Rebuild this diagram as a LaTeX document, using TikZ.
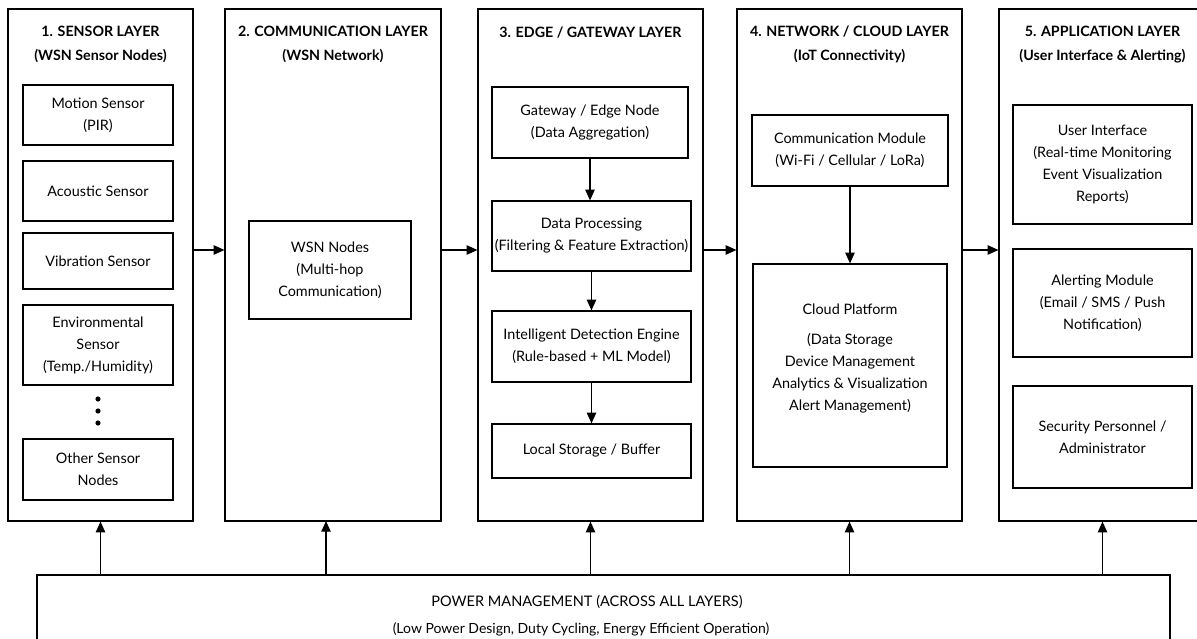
\documentclass[tikz,border=0pt]{standalone}
\usepackage{fontspec}
\setmainfont{Lato}
\usetikzlibrary{arrows.meta}
\newcommand\pbox[7]{\node[#2, minimum width={(#5-#3)*0.75pt}, minimum height={(#6-#4)*0.75pt}] (#1) at ({(#3+#5)/2},{(#4+#6)/2}) {#7};}
\begin{document}
\begin{tikzpicture}[x=0.75pt,y=-0.75pt, line width=0.9pt,
  layer/.style={draw, inner sep=0pt},
  ibox/.style={draw, align=center, inner sep=0pt, font=\fontsize{10.8}{16.5}\selectfont},
  ttl/.style={align=center, inner sep=0pt, font=\bfseries\fontsize{10.7}{17.5}\selectfont},
  ptxt/.style={inner sep=0pt, font=\fontsize{10.5}{14}\selectfont},
  arr/.style={-{Triangle[length=8pt,width=7pt]}}]
\clip (0,0) rectangle (1197,639);
\fill[white] (0,0) rectangle (1197,639);
% layers
\pbox{L1}{layer}{8}{9}{193}{521}{}
\pbox{L2}{layer}{225}{9}{441}{521}{}
\pbox{L3}{layer}{478}{9}{703}{521}{}
\pbox{L4}{layer}{737}{9}{962}{521}{}
\pbox{L5}{layer}{999}{9}{1206}{521}{}
% titles
\node[ttl] (t1) at (100.5,44.5) {1. SENSOR LAYER\\(WSN Sensor Nodes)};
\node[ttl] (t2) at (333,44.5) {2. COMMUNICATION LAYER\\(WSN Network)};
\node[ttl] (t3) at (590.5,33) {3. EDGE / GATEWAY LAYER};
\node[ttl] (t4) at (849.5,44.5) {4. NETWORK / CLOUD LAYER\\(IoT Connectivity)};
\node[ttl] (t5) at (1102.5,44.5) {5. APPLICATION LAYER\\(User Interface \& Alerting)};
% layer 1
\pbox{ms}{ibox}{23}{85}{173}{145}{Motion Sensor\\(PIR)}
\pbox{as}{ibox}{23}{161}{173}{221}{Acoustic Sensor}
\pbox{vs}{ibox}{23}{233}{173}{289}{Vibration Sensor}
\pbox{es}{ibox}{23}{305}{173}{385}{Environmental\\Sensor\\(Temp./Humidity)}
\pbox{os}{ibox}{23}{439}{173}{500}{Other Sensor\\Nodes}
\fill (98,399) circle (2.6);
\fill (98,411) circle (2.6);
\fill (98,423) circle (2.6);
% layer 2
\pbox{wsn}{ibox}{249}{221}{411}{319}{WSN Nodes\\(Multi-hop\\Communication)}
% layer 3
\pbox{gw}{ibox}{492}{87}{688}{158}{Gateway / Edge Node\\(Data Aggregation)}
\pbox{dp}{ibox}{492}{201}{691}{271}{Data Processing\\(Filtering \& Feature Extraction)}
\pbox{ide}{ibox}{492}{311}{691}{382}{Intelligent Detection Engine\\(Rule-based + ML Model)}
\pbox{ls}{ibox}{492}{424}{691}{478}{Local Storage / Buffer}
\draw[arr] (gw.south) -- (gw.south |- dp.north);
\draw[arr] (dp.south) -- (dp.south |- ide.north);
\draw[arr] (ide.south) -- (ide.south |- ls.north);
% layer 4
\pbox{cm}{ibox}{752}{115}{948}{186}{Communication Module\\(Wi-Fi / Cellular / LoRa)}
\pbox{cp}{ibox}{753}{264}{947}{467}{}
\node[align=center, inner sep=0pt, font=\fontsize{10.8}{16.5}\selectfont] (cpt) at (850,359) {Cloud Platform\\[6pt](Data Storage\\Device Management\\Analytics \& Visualization\\Alert Management)};
\draw[arr] (cm.south) -- (cm.south |- cp.north);
% layer 5
\pbox{ui}{ibox}{1013}{105}{1192}{224}{User Interface\\(Real-time Monitoring\\Event Visualization\\Reports)}
\pbox{am}{ibox}{1013}{249}{1192}{357}{Alerting Module\\(Email / SMS / Push\\Notification)}
\pbox{sp}{ibox}{1013}{386}{1192}{488}{Security Personnel /\\Administrator}
% horizontal arrows
\coordinate (h) at (0,250);
\draw[arr] (L1.east |- h) -- (L2.west |- h);
\draw[arr] (L2.east |- h) -- (L3.west |- h);
\draw[arr] (L3.east |- h) -- (L4.west |- h);
\draw[arr] (L4.east |- h) -- (L5.west |- h);
% power
\pbox{pw}{layer}{37}{575}{1170}{660}{}
\node[ptxt, font=\fontsize{10.9}{14}\selectfont] (pw1) at (587,602) {POWER MANAGEMENT (ACROSS ALL LAYERS)};
\node[ptxt] (pw2) at (581,629) {(Low Power Design, Duty Cycling, Energy Efficient Operation)};
\coordinate (p2) at (326,521);
\draw[arr] (L1.south |- pw.north) -- (L1.south);
\draw[arr] (p2 |- pw.north) -- (p2);
\draw[arr] (L3.south |- pw.north) -- (L3.south);
\draw[arr] (L4.south |- pw.north) -- (L4.south);
\draw[arr] (L5.south |- pw.north) -- (L5.south);
\end{tikzpicture}
\end{document}
